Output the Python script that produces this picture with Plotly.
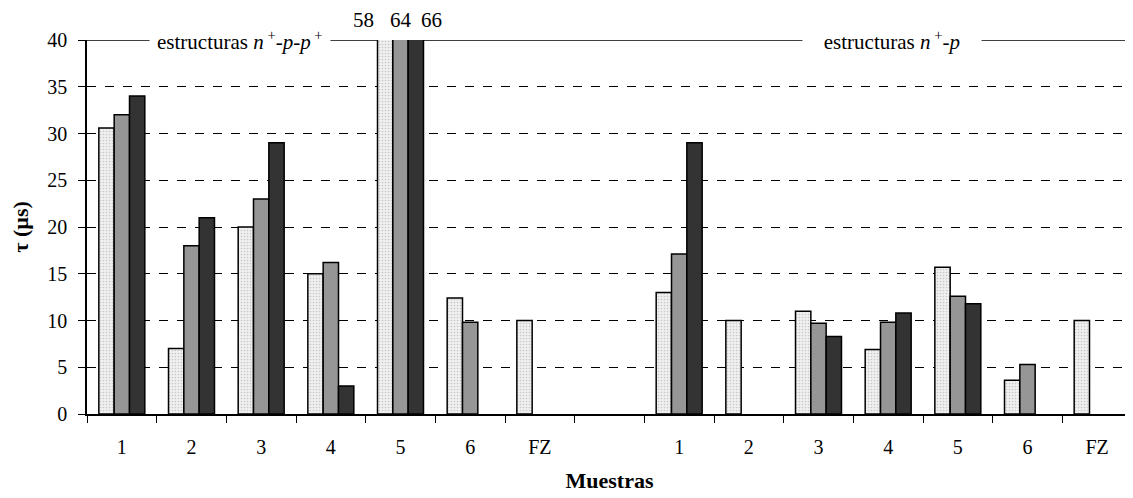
import plotly.graph_objects as go

# ---- data ----
group_labels = ["1", "2", "3", "4", "5", "6", "FZ"]
x_keys = ["A1", "A2", "A3", "A4", "A5", "A6", "AFZ", "gap",
          "B1", "B2", "B3", "B4", "B5", "B6", "BFZ"]
tick_text = group_labels + [" "] + group_labels

serie_1 = [30.6, 7.0, 20.0, 15.0, 58.0, 12.4, 10.0, None, 13.0, 10.0, 11.0, 6.9, 15.7, 3.6, 10.0]
serie_2 = [32.0, 18.0, 23.0, 16.2, 64.0, 9.8, None, None, 17.1, None, 9.7, 9.8, 12.6, 5.3, None]
serie_3 = [34.0, 21.0, 29.0, 3.0, 66.0, None, None, None, 29.0, None, 8.3, 10.8, 11.8, None, None]

over_key = "A5"
over_labels = ["58", "64", "66"]

FONT = "Liberation Serif"
FS = 20

fig = go.Figure()
fig.add_trace(go.Bar(
    x=x_keys, y=serie_1,
    marker=dict(color="#eeeeee",
                pattern=dict(shape=".", size=3, solidity=0.25,
                             fgcolor="#a0a0a0", bgcolor="#f0f0f0"),
                line=dict(color="black", width=1.5)),
))
fig.add_trace(go.Bar(
    x=x_keys, y=serie_2,
    marker=dict(color="#969696", line=dict(color="black", width=1.5)),
))
fig.add_trace(go.Bar(
    x=x_keys, y=serie_3,
    marker=dict(color="#333333", line=dict(color="black", width=1.5)),
))

# line at top (y = 40)
fig.add_shape(type="line", xref="paper", yref="y", x0=0, x1=1, y0=40, y1=40,
              line=dict(color="black", width=1.5), layer="between")

fig.add_annotation(xref="paper", yref="y", x=0.146, y=40, xanchor="center",
                   text="estructuras <i>n</i><sup> +</sup>-<i>p</i>-<i>p</i><sup> +</sup>",
                   showarrow=False, bgcolor="white", borderpad=7,
                   font=dict(family=FONT, size=21, color="black"))
fig.add_annotation(xref="paper", yref="y", x=0.770, y=40, xanchor="center",
                   text="&nbsp;&nbsp;&nbsp;estructuras <i>n</i><sup> +</sup>-<i>p</i>&nbsp;&nbsp;&nbsp;",
                   showarrow=False, bgcolor="white", borderpad=5,
                   font=dict(family=FONT, size=21, color="black"))

for lab, dx in zip(over_labels, [-37, 0, 31]):
    fig.add_annotation(x=over_key, y=40, xref="x", yref="y", text=lab,
                       showarrow=False, yanchor="bottom", yshift=6, xshift=dx,
                       font=dict(family=FONT, size=21, color="black"))

fig.update_layout(
    width=1133, height=498,
    margin=dict(l=79, r=9, t=32, b=92),
    paper_bgcolor="white", plot_bgcolor="white",
    barmode="group", bargap=0.34, bargroupgap=0,
    showlegend=False,
    font=dict(family=FONT, size=FS, color="black"),
)
fig.update_xaxes(
    type="category", tickmode="array", tickvals=x_keys, ticktext=tick_text,
    tickson="boundaries", ticks="outside", ticklen=7, tickcolor="black", tickwidth=1,
    showline=True, linecolor="black", linewidth=1.5, showgrid=False,
    range=[-0.5, 14.5], ticklabelstandoff=14, automargin=False,
    tickfont=dict(family=FONT, size=FS),
    title=dict(text="<b>Muestras</b>", font=dict(family=FONT, size=22), standoff=16),
)
fig.update_yaxes(
    range=[0, 40], tickmode="linear", tick0=0, dtick=5,
    ticks="outside", ticklen=7, tickcolor="black", tickwidth=1,
    showline=True, linecolor="black", linewidth=1.5,
    showgrid=True, gridcolor="black", gridwidth=1, griddash="dash",
    zeroline=False, ticklabelstandoff=7, automargin=False,
    tickfont=dict(family=FONT, size=FS),
    title=dict(text="<b>τ (µs)</b>", font=dict(family=FONT, size=22), standoff=14),
)

fig.write_html("out.html")
